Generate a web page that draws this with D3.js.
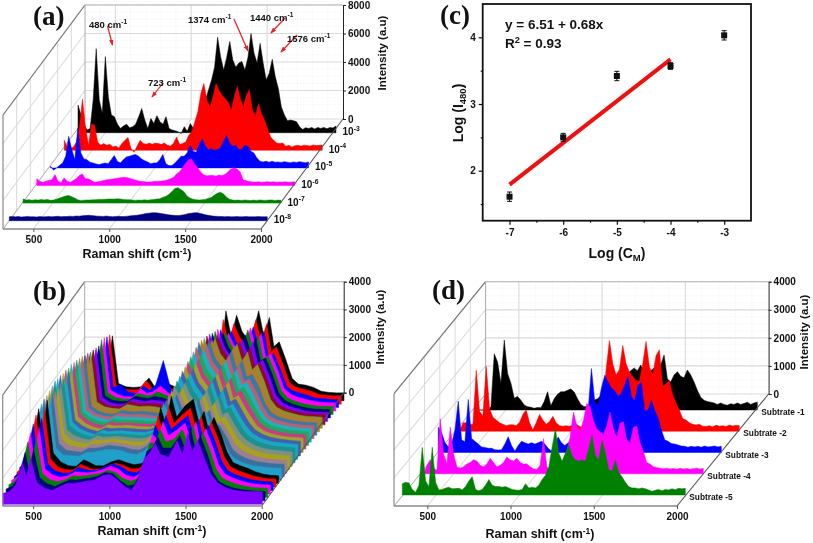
<!DOCTYPE html>
<html><head><meta charset="utf-8">
<script src="https://cdn.jsdelivr.net/npm/d3@7"></script>
<style>html,body{margin:0;padding:0;background:#fff}svg{display:block;filter:blur(.35px)}text{font-family:"Liberation Sans",Arial,sans-serif;font-weight:bold;fill:#111}</style>
</head><body><svg id="c" width="813" height="543"></svg>
<script>
// ---------- panel (a) ----------
const aWave = d3.range(300,2001,20);
const a1e3 = [1940,1240,540,190,300,2300,5900,2300,1360,5340,2500,1240,1120,600,300,470,600,350,420,600,1120,1700,890,300,1000,650,1190,770,600,1120,300,190,140,70,-50,420,100,650,300,650,1240,1800,2300,3000,3700,4600,6700,5300,4400,5300,6400,5100,4600,4900,5000,4400,5300,6970,5570,4900,6270,4900,3700,4170,5150,3930,3100,1800,1240,840,890,840,770,420,230,350,300,370,260,370,300,370,280,370,330,470];
const a1e4 = [700,230,120,230,580,1640,3580,1640,350,1870,1750,580,350,470,350,420,230,300,160,470,700,890,120,-140,300,700,470,420,510,420,510,470,420,510,350,300,470,940,420,470,580,1050,1290,1990,2690,3980,4680,3510,3040,3740,4680,4210,3860,3630,3390,2810,3740,4490,3630,3040,3860,4260,2810,2460,3280,2570,2110,1520,940,700,510,470,510,280,350,230,320,350,300,360,340,300,380,330,350,370];
const a1e5 = [120,-160,0,190,350,820,2220,1290,580,2800,1050,630,580,400,350,280,230,300,350,300,580,870,470,350,580,770,820,890,940,820,630,510,420,300,350,350,580,940,300,160,160,350,580,820,820,1050,1600,1170,1100,1640,2040,1520,1290,1340,1240,1290,1400,1870,2270,1750,1520,1590,1290,1290,1590,1520,1170,1050,700,470,420,470,400,470,400,420,380,440,400,360,420,380,440,400,370,420];
const a1e6 = [470,300,230,300,350,400,770,300,210,540,300,230,350,470,700,820,470,470,350,230,260,300,350,400,420,450,500,520,570,580,540,480,420,350,300,280,250,240,260,290,300,310,340,380,470,570,800,950,1250,1550,1800,1870,1500,1250,950,750,680,700,720,650,730,700,780,950,1150,1220,1150,950,400,330,280,250,240,260,230,250,270,240,260,230,250,240,260,230,250,260];
const a1e7 = [280,220,240,200,230,210,250,220,260,200,210,270,350,420,500,540,450,350,230,190,200,220,210,230,240,260,250,270,280,290,280,300,290,260,240,240,220,190,210,200,230,200,230,260,280,300,400,470,600,800,1020,1080,950,800,500,350,270,240,210,230,260,330,400,550,700,770,650,420,270,220,200,210,190,220,200,180,210,190,220,200,190,210,220,190,210,200];
const a1e8 = [280,300,270,290,260,280,300,270,280,260,290,270,280,300,270,290,310,280,300,290,320,300,330,320,350,360,380,360,340,320,310,300,330,300,280,300,310,290,300,320,340,360,380,420,460,500,530,550,560,540,500,470,430,400,380,360,370,400,440,500,530,560,550,510,460,400,360,330,310,300,290,280,290,270,280,290,270,280,290,270,280,270,290,280,270,280];
const aNames = ["-8","-7","-6","-5","-4","-3"];
// ---------- panel (b): wavenumbers, then spectra from back to front ----------
const bWave = [300,340,380,425,450,480,520,570,620,670,720,760,800,850,900,950,1000,1050,1100,1140,1180,1225,1260,1295,1330,1385,1440,1475,1510,1540,1575,1620,1660,1700,1750,1800,1850,1900,1950,2000];
const b00 = [500,650,900,2000,1100,2340,620,500,480,500,820,480,560,600,480,400,420,620,700,750,1000,3240,2300,3080,2500,2050,3240,2300,3000,1950,2120,1450,800,600,560,480,340,300,280,280];
const b01 = [520,680,950,2150,1180,2500,700,540,520,520,850,560,600,620,520,430,440,640,720,780,1050,3050,2200,2900,2450,2000,3050,2250,2900,1900,2050,1400,780,620,540,470,360,320,300,300];
const b02 = [480,640,980,2100,1250,2550,720,820,560,500,780,620,820,1700,640,440,480,600,760,900,1100,2800,2150,2750,2350,1950,2900,2200,2750,1850,1950,1350,760,600,520,440,340,330,290,280];
const b03 = [460,600,1000,2200,1200,2650,760,600,520,520,800,640,700,900,650,500,520,620,780,880,1180,2950,2250,2800,2400,2050,3000,2300,2800,1950,2050,1450,820,620,500,430,360,320,300,300];
const b04 = [500,620,1050,2300,1300,2700,780,620,560,560,760,700,680,820,700,560,560,640,760,900,1250,3000,2350,2950,2500,2100,3050,2350,2850,2000,2100,1500,860,600,480,400,340,300,300,290];
const b05 = [520,640,1100,2350,1350,2600,800,640,600,600,780,740,700,780,720,620,600,680,800,950,1300,3050,2450,3050,2550,2150,3000,2400,2900,2050,2150,1550,900,640,500,420,360,320,310,300];
const b06 = [540,660,1150,2450,1400,2650,860,680,620,640,800,760,720,760,740,660,640,720,860,1000,1400,3150,2500,3100,2600,2200,2950,2400,2850,2100,2200,1600,950,680,540,460,380,340,330,320];
const b07 = [560,700,1200,2500,1450,2700,900,720,660,680,840,800,760,780,760,700,680,760,900,1080,1500,3200,2600,3200,2700,2300,3000,2450,2800,2100,2250,1650,1000,720,580,500,430,400,380,380];
const b08 = [580,720,1250,2600,1500,2750,950,780,720,700,860,820,780,800,780,720,720,800,950,1150,1550,3250,2650,3250,2700,2300,3050,2400,2750,2100,2300,1700,1050,760,620,540,470,430,420,400];
const b09 = [600,740,1300,2650,1550,2800,1000,820,760,740,880,840,820,820,800,760,760,840,1000,1200,1650,3300,2700,3300,2750,2350,3100,2450,2700,2150,2250,1700,1100,800,640,560,500,460,440,420];
const b10 = [620,780,1350,2700,1600,2850,1050,860,780,760,900,860,840,860,840,800,780,880,1050,1250,1700,3350,2800,3430,2800,2400,3050,2400,2700,2100,2200,1750,1150,820,660,580,520,480,460,450];
const b11 = [640,800,1400,2750,1650,2850,1100,900,820,780,920,880,860,880,860,820,820,900,1100,1300,1750,3300,2800,3400,2800,2400,3000,2350,2650,2050,2150,1700,1200,850,680,600,540,500,480,470];
const b12 = [640,820,1450,2800,1650,2900,1150,950,860,800,940,900,900,900,880,860,860,940,1120,1350,1800,3250,2750,3350,2800,2350,2950,2350,2600,2050,2150,1700,1220,880,700,620,560,520,500,490];
const b13 = [660,840,1450,2800,1700,2900,1200,1000,880,820,960,920,920,920,900,880,880,960,1150,1400,1800,3200,2700,3300,2750,2350,2900,2300,2600,2000,2100,1680,1250,900,720,640,580,540,520,500];
const b14 = [680,860,1500,2850,1700,2950,1250,1020,900,840,980,940,940,950,920,900,900,980,1180,1420,1850,3150,2650,3250,2700,2300,2900,2300,2550,2000,2100,1650,1250,920,740,650,590,550,530,510];
const b15 = [680,880,1500,2850,1750,2950,1300,1050,920,860,1000,960,960,980,950,930,920,1000,1200,1450,1850,3100,2650,3200,2700,2300,2850,2250,2550,1950,2050,1600,1250,940,760,660,600,560,540,520];
const b16 = [700,900,1550,2900,1750,3000,1300,1080,950,880,1020,980,1000,1000,980,960,950,1020,1200,1480,1900,3050,2600,3150,2650,2250,2850,2250,2500,1950,2050,1600,1220,950,780,680,620,580,550,530];
const b17 = [700,920,1550,2900,1800,3000,1350,1100,980,900,1050,1000,1020,1030,1000,980,970,1040,1220,1500,1900,3000,2600,3100,2650,2250,2800,2200,2500,1900,2000,1550,1200,950,780,680,620,590,560,540];
const b18 = [720,940,1600,2950,1800,3000,1350,1120,1000,930,1080,1030,1040,1050,1020,1000,980,1040,1220,1500,1900,2950,2550,3050,2600,2200,2800,2200,2450,1900,2000,1550,1180,950,780,680,620,580,560,540];
const b19 = [700,920,1600,2900,1750,3000,1300,1100,1000,950,1100,1050,1060,1080,1050,1020,1000,1040,1200,1480,1850,2900,2500,3000,2550,2200,2750,2150,2450,1850,1950,1500,1150,930,760,660,600,570,540,520];
const b20 = [680,900,1550,2850,1700,2950,1300,1050,980,930,1080,1050,1080,1100,1060,1030,1000,1020,1180,1450,1800,2850,2450,2950,2500,2150,2700,2150,2400,1850,1900,1500,1100,900,740,640,580,540,520,500];
const b21 = [650,860,1500,2800,1650,2950,1250,1000,950,900,1050,1040,1080,1120,1080,1040,980,1000,1150,1400,1750,2800,2400,2900,2450,2100,2700,2100,2350,1800,1850,1450,1050,850,700,600,540,500,480,470];
const b22 = [620,820,1450,2800,1600,3000,1200,950,920,880,1030,1020,1060,1130,1100,1060,980,960,1100,1350,1700,2750,2400,2950,2450,2100,2750,2150,2400,1850,1850,1450,1000,800,660,570,520,480,460,450];
const b23 = [600,800,1400,2750,1550,3000,1150,900,880,860,1000,1000,1040,1100,1100,1060,960,920,1050,1300,1650,2750,2450,3050,2500,2150,2850,2200,2450,1900,1900,1450,950,750,620,540,490,460,440,430];
const b24 = [580,760,1350,2700,1500,3000,1100,780,640,620,860,760,640,640,780,860,760,680,720,900,1450,2740,2100,3150,2400,2800,3040,2200,2600,1900,2380,1800,1150,760,640,540,420,340,300,280];
const b25 = [540,720,1300,2600,1400,2800,1020,720,620,620,820,720,640,660,780,860,780,660,660,840,1350,2550,2000,2900,2300,2600,2850,2100,2550,1850,2350,1750,1100,740,600,500,400,340,300,290];
const b26 = [500,680,1200,2400,1300,2600,950,700,620,640,840,760,720,740,860,950,860,680,640,780,1250,2350,1950,2700,2200,2450,2700,2000,2550,1850,2350,1750,1080,720,580,480,400,350,320,310];
const b27 = [480,640,1100,2200,1200,2400,900,680,600,660,800,780,760,800,880,1000,900,680,600,720,1150,2150,1950,2600,2100,2300,2550,1950,2600,1850,2350,1700,1050,720,580,480,400,360,330,320];
const b28 = [460,580,950,2000,1100,2150,860,640,560,640,780,760,780,820,860,980,900,680,580,660,1050,1950,1950,2450,2000,2100,2450,1900,2600,1850,2350,1700,1020,700,560,470,400,360,340,330];
const b29 = [430,520,820,1750,1050,1850,840,620,520,640,760,750,780,820,880,1020,980,720,540,580,950,1800,1900,2300,1900,1900,2350,1850,2600,1900,2350,1700,1000,680,540,450,400,370,350,340];
const b30 = [400,450,700,1500,1000,1650,780,580,500,640,760,750,790,840,880,1040,1080,880,620,500,860,1650,1850,2200,1800,1700,2300,1800,2550,1900,2300,1650,1100,800,620,520,480,460,460,450];
const bColors = ["#000000","#ff0000","#0000ff","#ff00ff","#008000","#000080","#8000ff","#8a0a2e","#8f8f2a","#b07a30","#3c78a0","#b8607a","#20b0b8","#20a860","#c04080","#a0a030","#4060b0","#18a8c0","#1f8f90","#7f9080","#a8a020","#9a8090","#3a70a0","#20a0c8","#000000","#ff0000","#0000ff","#ff00ff","#008000","#000080","#8000ff"];
// ---------- panel (c) ----------
const cX = [-7,-6,-5,-4,-3];
const cY = [1.61,2.5,3.42,3.57,4.03];
const cErr = [0.07,0.06,0.07,0.05,0.07];
const cFitX = [-7,-4];
const cFitY = [1.79,3.67];
// ---------- panel (d) ----------
const dWave = d3.range(300,2001,20);
const dS1 = [0,0,0,0,0,120,2000,1700,950,2490,1300,950,420,480,350,180,120,100,60,90,80,300,650,150,400,560,650,650,700,750,640,400,200,120,130,250,350,400,500,600,800,1000,1100,1200,1300,1400,1300,1400,1500,1400,1600,1300,1350,1400,1500,1350,1600,1960,1100,1000,1250,1365,1200,1150,1425,1250,1000,700,450,350,300,280,250,200,250,200,170,220,200,250,200,230,280,200,250,280];
const dS2 = [0,0,300,300,250,250,2170,700,550,2310,800,500,400,300,250,200,230,230,200,320,600,770,300,50,300,600,400,250,350,530,300,200,180,200,180,220,250,180,120,100,60,200,300,500,1000,2200,3230,2400,2000,2200,3050,2400,2100,1950,1800,1800,2400,3200,2300,2000,2700,2900,1600,1700,1800,1300,1000,750,450,400,300,250,220,250,180,170,200,150,220,180,200,170,220,190,210,200];
const dS3 = [900,700,350,200,300,800,1830,450,380,1890,500,400,300,200,180,150,150,100,90,100,300,560,250,50,250,400,350,300,350,300,350,400,300,150,50,300,550,350,250,350,400,300,350,500,800,1500,2990,1800,1700,2300,2750,2500,2300,2200,2000,2100,2400,2720,2000,1850,2400,2500,1500,1500,1860,1500,1250,800,450,400,320,300,270,230,220,190,220,200,220,190,230,200,210,230,200,220];
const dS4 = [0,0,300,500,200,120,1960,700,350,1660,700,240,200,250,350,400,500,450,300,250,350,550,400,250,300,400,600,500,450,550,400,350,350,250,180,150,300,1250,250,150,200,300,350,500,800,1300,2200,1700,1500,1900,2500,2400,1900,1600,1500,1400,1700,2200,1600,1300,1800,1850,1200,1100,1650,1700,1100,800,400,350,250,220,200,180,200,170,190,160,200,170,190,160,180,200,170,190];
const dS5 = [400,450,430,200,100,350,1700,500,300,1700,450,180,200,250,280,220,230,240,180,300,500,650,200,150,200,350,550,350,300,300,280,300,250,200,180,170,200,400,250,280,250,350,550,700,1000,1700,2370,1500,1200,1500,1780,1400,1250,1200,1250,1200,1650,2130,1400,1250,1950,1500,900,850,1240,800,650,450,300,250,250,220,250,220,180,130,170,200,150,200,180,220,190,240,220,240];
const dNames = ["Subtrate -5","Subtrate -4","Subtrate -3","Subtrate -2","Subtrate -1"];

const svg = d3.select("#c");

function supLabel(sel, parts){ // parts: [text, "sup"|"sub"|null]
  let shift = 0;
  parts.forEach(([t,k])=>{
    const want = k==="sup"?-4.5:k==="sub"?3:0;
    const ts = sel.append("tspan").text(t).attr("dy",want-shift);
    if(k) ts.attr("font-size","0.68em");
    shift = want;
  });
}

function panel3D(cfg){
  const g = svg.append("g");
  const xS = d3.scaleLinear().domain([300,2000]).range([cfg.x0,cfg.x1]);
  const zS = d3.scaleLinear().domain([0,cfg.zMax]).range([0,-cfg.h]);
  const yF = cfg.yF, DX = cfg.dx, DY = cfg.dy;
  const line=(x1,y1,x2,y2,c,w,dash)=>{const l=g.append("line").attr("x1",x1).attr("y1",y1).attr("x2",x2).attr("y2",y2).attr("stroke",c).attr("stroke-width",w); if(dash) l.attr("stroke-dasharray",dash);return l;};
  const minorC="#efefef", majorC="#dadada";
  // minor grid
  d3.range(400,2000,100).filter(v=>v%500).forEach(v=>{
    line(xS(v)+DX,yF-DY,xS(v)+DX,yF-DY-cfg.h,minorC,.7,"1 1");
    line(xS(v),yF,xS(v)+DX,yF-DY,minorC,.7,"1 1");
  });
  const zStep=cfg.zTicks[1]-cfg.zTicks[0];
  cfg.zTicks.slice(0,-1).forEach(t=>{
    [.25,.5,.75].forEach(f=>{const y=yF-DY+zS(t+f*zStep);
      line(cfg.x0+DX,y,cfg.x1+DX,y,minorC,.7,"1 1");
    });
  });
  // back wall
  cfg.zTicks.forEach(t=>line(cfg.x0+DX,yF-DY+zS(t),cfg.x1+DX,yF-DY+zS(t),majorC,1.2));
  [500,1000,1500].forEach(v=>{
    line(xS(v)+DX,yF-DY,xS(v)+DX,yF-DY-cfg.h,majorC,1.1);
    line(xS(v),yF,xS(v)+DX,yF-DY,majorC,1.1);
  });
  // left wall
  cfg.zTicks.forEach(t=>line(cfg.x0,yF+zS(t),cfg.x0+DX,yF-DY+zS(t),majorC,1.1));
  d3.range(1,6).forEach(k=>{const f=k/6;
    line(cfg.x0+DX*f,yF-DY*f,cfg.x0+DX*f,yF-DY*f-cfg.h,majorC,1);
  });
  // wall outline
  line(cfg.x0,yF,cfg.x0,yF-cfg.h,"#8a8a8a",1.2);
  line(cfg.x0,yF-cfg.h,cfg.x0+DX,yF-DY-cfg.h,"#7a7a7a",1.2);
  line(cfg.x0+DX,yF-DY,cfg.x0+DX,yF-DY-cfg.h,"#aaaaaa",1);
  line(cfg.x0+DX,yF-DY-cfg.h,cfg.x1+DX,yF-DY-cfg.h,"#bbbbbb",1);
  line(cfg.x0,yF,cfg.x0+DX,yF-DY,"#aaaaaa",.8);
  // series, drawn from the back to the front
  const n=cfg.series.length;
  const offX=d3.scaleLinear().domain([0,n-1]).range(cfg.offX);
  const offY=d3.scaleLinear().domain([0,n-1]).range(cfg.offY);
  d3.range(n-1,-1,-1).forEach(i=>{
    const s=cfg.series[i];
    const ox=offX(i), base=yF-offY(i);
    const area=d3.area().x((d,j)=>xS(cfg.wave[j])+ox).y0(base).y1(d=>base+zS(d));
    g.append("path").attr("d",area(s.values)).attr("fill",s.color).attr("stroke",s.color).attr("stroke-width",.5);
  });
  // floor edges
  line(cfg.x1,yF,cfg.x1+DX,yF-DY,"#555",1.1);
  line(cfg.x0,yF,cfg.x1,yF,"#888",1.4);
  // axes
  const ax=g.append("g").attr("transform",`translate(0,${yF})`).call(d3.axisBottom(xS).tickValues([500,1000,1500,2000]).tickSize(3).tickPadding(4).tickFormat(d3.format("d")));
  ax.select(".domain").remove(); ax.selectAll("line").attr("stroke","#555");
  ax.selectAll("text").attr("font-size",10);
  const ay=g.append("g").attr("transform",`translate(${cfg.x1+DX},${yF-DY})`).call(d3.axisRight(zS).tickValues(cfg.zTicks).tickSize(3).tickPadding(2).tickFormat(d3.format("d")));
  ay.select(".domain").attr("stroke","#222").attr("stroke-width",1);
  ay.selectAll("line").attr("stroke","#222");
  ay.selectAll("text").attr("font-size",10);
  // titles
  const xt=g.append("text").attr("x",cfg.xTitle[0]).attr("y",cfg.xTitle[1]).attr("text-anchor","middle").attr("font-size",12.5);
  supLabel(xt,[["Raman shift (cm",null],["-1","sup"],[")",null]]);
  g.append("text").attr("transform",`translate(${cfg.yTitle[0]},${cfg.yTitle[1]}) rotate(-90)`).attr("text-anchor","middle").attr("font-size",11.5).text("Intensity (a.u)");
  g.append("text").attr("x",cfg.tag[0]).attr("y",cfg.tag[1]).attr("font-size",27).style("font-family","'Liberation Serif',serif").text(cfg.tagText);
  // series labels
  cfg.series.forEach((s,i)=>{
    if(!s.label) return;
    const ox=offX(i), base=yF-offY(i), xe=cfg.x1+ox;
    if(cfg.labelKind==="pow"){
      const t=g.append("text").attr("x",xe+cfg.labDx).attr("y",base+cfg.labDy).attr("font-size",10);
      supLabel(t,[["10",null],[s.label,"sup"]]);
    } else {
      g.append("text").attr("x",xe+cfg.labDx).attr("y",base+cfg.labDy).attr("font-size",8.3).text(s.label);
    }
  });
  return g;
}

const aColors=["#000080","#008000","#ff00ff","#0000ff","#ff0000","#000000"];
const aVals=[a1e8,a1e7,a1e6,a1e5,a1e4,a1e3];
const ga=panel3D({x0:3,x1:261,yF:229,dx:82,dy:110,h:114,zMax:8000,zTicks:[0,2000,4000,6000,8000],
  wave:aWave,offX:[6.3,75],offY:[8.3,96.3],
  series:aVals.map((v,i)=>({values:v,color:aColors[i],label:aNames[i]})),
  labelKind:"pow",labDx:6.5,labDy:2.5,
  xTitle:[137,258],yTitle:[386,53],tag:[33,25],tagText:"(a)"});

// annotations for (a)
const defs=svg.append("defs");
defs.append("marker").attr("id","ah").attr("viewBox","0 0 8 6").attr("refX",7).attr("refY",3).attr("markerWidth",6).attr("markerHeight",4.5).attr("orient","auto").attr("markerUnits","userSpaceOnUse").append("path").attr("d","M0,0L8,3L0,6Z").attr("fill","#e8202a");
const aNotes=[["480",89,28,107.5,26,112.5,45],["723",148,86,163,83,152,97],["1374",188,23,234,19,248,51],["1440",250,21,285,18,271,33],["1576",287,42,297,35,281,52]];
aNotes.forEach(([t,x,y,x1,y1,x2,y2])=>{
  ga.append("line").attr("x1",x1).attr("y1",y1).attr("x2",x2).attr("y2",y2).attr("stroke","#e8202a").attr("stroke-width",1.2).attr("marker-end","url(#ah)");
  const tx=ga.append("text").attr("x",x).attr("y",y).attr("font-size",9.5);
  supLabel(tx,[[t+" cm",null],["-1","sup"]]);
});

const bVals=[b30,b29,b28,b27,b26,b25,b24,b23,b22,b21,b20,b19,b18,b17,b16,b15,b14,b13,b12,b11,b10,b09,b08,b07,b06,b05,b04,b03,b02,b01,b00];
panel3D({x0:2.7,x1:261.7,yF:506,dx:82,dy:113.3,h:111,zMax:4000,zTicks:[0,1000,2000,3000,4000],
  wave:bWave,offX:[0.7,82.3],offY:[1.7,105.3],
  series:bVals.map((v,i)=>({values:v,color:bColors[30-i]})),
  xTitle:[152,535],yTitle:[384,327],tag:[33,300],tagText:"(b)"});

const dColors=["#008000","#ff00ff","#0000ff","#ff0000","#000000"];
const dVals=[dS5,dS4,dS3,dS2,dS1];
panel3D({x0:394,x1:677,yF:506,dx:91.6,dy:112,h:112.3,zMax:4000,zTicks:[0,1000,2000,3000,4000],
  wave:dWave,offX:[8.3,80.3],offY:[11,96],
  series:dVals.map((v,i)=>({values:v,color:dColors[i],label:dNames[i]})),
  labelKind:"name",labDx:4,labDy:5,
  xTitle:[540,538],yTitle:[808,332],tag:[432,299],tagText:"(d)"});

// ---------- panel (c) ----------
(function(){
  const g=svg.append("g");
  const x=d3.scaleLinear().domain([-7.5,-2.5]).range([482.7,751]);
  const y=d3.scaleLinear().domain([1.25,4.5]).range([220.7,4]);
  const xa=g.append("g").attr("transform","translate(0,220.7)").call(d3.axisBottom(x).tickValues(cX).tickSize(4).tickPadding(4).tickFormat(d=>String(d)));
  const xm=g.append("g").attr("transform","translate(0,220.7)").call(d3.axisBottom(x).tickValues([-6.5,-5.5,-4.5,-3.5]).tickSize(2).tickFormat(""));
  const ya=g.append("g").attr("transform","translate(482.7,0)").call(d3.axisLeft(y).tickValues([2,3,4]).tickSize(4).tickPadding(3).tickFormat(d3.format("d")));
  const ym=g.append("g").attr("transform","translate(482.7,0)").call(d3.axisLeft(y).tickValues([1.5,2.5,3.5]).tickSize(2).tickFormat(""));
  [xa,xm,ya,ym].forEach(a=>{a.select(".domain").remove();a.selectAll("line").attr("stroke","#111").attr("stroke-width",1.2);a.selectAll("text").attr("font-size",10);});
  g.append("rect").attr("x",482.7).attr("y",4).attr("width",268.3).attr("height",216.7).attr("fill","none").attr("stroke","#111").attr("stroke-width",1.8);
  const fit=d3.line().x((d,i)=>x(cFitX[i])).y(d=>y(d));
  g.append("path").attr("d",fit(cFitY)).attr("fill","none").attr("stroke","#ee1111").attr("stroke-width",4);
  cX.forEach((v,i)=>{
    const px=x(v);
    g.append("line").attr("x1",px).attr("x2",px).attr("y1",y(cY[i]-cErr[i])).attr("y2",y(cY[i]+cErr[i])).attr("stroke","#111").attr("stroke-width",1);
    [cY[i]-cErr[i],cY[i]+cErr[i]].forEach(e=>g.append("line").attr("x1",px-2.5).attr("x2",px+2.5).attr("y1",y(e)).attr("y2",y(e)).attr("stroke","#111").attr("stroke-width",1));
    g.append("rect").attr("x",px-3).attr("y",y(cY[i])-3).attr("width",6).attr("height",6).attr("fill","#111");
  });
  g.append("text").attr("x",505).attr("y",28.5).attr("font-size",13.5).text("y = 6.51 + 0.68x");
  const r=g.append("text").attr("x",505).attr("y",47.5).attr("font-size",13.5);
  supLabel(r,[["R",null],["2","sup"],[" = 0.93",null]]);
  const xl=g.append("text").attr("x",617).attr("y",258).attr("text-anchor","middle").attr("font-size",14);
  supLabel(xl,[["Log (C",null],["M","sub"],[")",null]]);
  const yl=g.append("text").attr("transform","translate(463,113) rotate(-90)").attr("text-anchor","middle").attr("font-size",14);
  supLabel(yl,[["Log (I",null],["480","sub"],[")",null]]);
  g.append("text").attr("x",440).attr("y",24).attr("font-size",27).style("font-family","'Liberation Serif',serif").text("(c)");
})();
</script></body></html>
